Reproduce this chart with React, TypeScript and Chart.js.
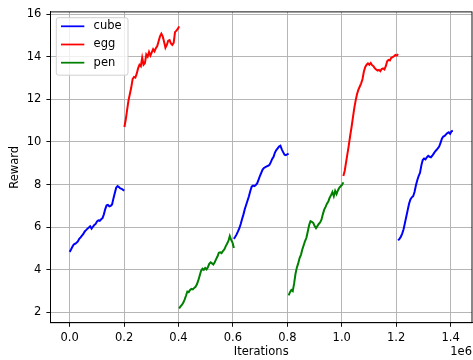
import React, { useEffect, useRef } from 'react';
import { Chart, registerables } from 'chart.js';

Chart.register(...registerables);

// ---- data ----
const SERIES_NAMES = ['cube', 'egg', 'pen'];
const SERIES_COLORS = ['#0000ff', '#ff0000', '#008000'];

// which series each training block belongs to, and where it starts (iterations)
const BLOCK_SERIES = [0, 1, 2, 0, 2, 1, 0];
const BLOCK_STARTS = [0, 201200, 402400, 603600, 804800, 1006000, 1207200];
const BLOCK_SPAN = 201200;

const CUBE_1 = [4.84, 4.95, 5.08, 5.19, 5.22, 5.27, 5.33, 5.45, 5.52, 5.6, 5.68, 5.8, 5.86, 5.93, 5.98, 6.04, 5.93, 6.02, 6.1, 6.15, 6.27, 6.32, 6.3, 6.37, 6.42, 6.6, 6.85, 7.02, 7.04, 6.98, 7.0, 7.06, 7.35, 7.6, 7.85, 7.93, 7.88, 7.82, 7.8, 7.75, 7.72];
const EGG_1 = [10.7, 11.05, 11.5, 11.95, 12.25, 12.55, 12.95, 13.05, 13.02, 13.2, 13.45, 13.62, 13.55, 13.95, 13.62, 13.7, 14.1, 14.0, 14.22, 14.05, 14.2, 14.35, 14.25, 14.4, 14.5, 14.72, 14.95, 15.08, 14.95, 14.7, 14.42, 14.55, 14.75, 14.78, 14.62, 14.55, 14.65, 15.15, 15.22, 15.3, 15.42];
const PEN_1 = [2.18, 2.28, 2.35, 2.45, 2.6, 2.78, 2.98, 2.95, 3.05, 3.1, 3.08, 3.15, 3.2, 3.32, 3.5, 3.72, 3.95, 4.05, 4.0, 4.08, 4.02, 4.12, 4.28, 4.35, 4.3, 4.25, 4.35, 4.5, 4.62, 4.8, 4.82, 4.78, 4.88, 4.95, 5.1, 5.22, 5.35, 5.58, 5.4, 5.28, 5.02];
const CUBE_2 = [5.45, 5.55, 5.66, 5.8, 5.95, 6.15, 6.38, 6.6, 6.85, 7.05, 7.25, 7.45, 7.7, 7.9, 7.95, 7.93, 7.98, 8.05, 8.22, 8.4, 8.55, 8.7, 8.78, 8.82, 8.85, 8.88, 8.92, 9.05, 9.2, 9.3, 9.5, 9.62, 9.7, 9.78, 9.82, 9.65, 9.52, 9.4, 9.38, 9.42, 9.45];
const PEN_2 = [2.8, 2.95, 3.05, 3.0, 3.35, 3.8, 4.1, 4.3, 4.55, 4.7, 4.95, 5.15, 5.35, 5.5, 5.8, 6.1, 6.28, 6.25, 6.2, 6.05, 5.95, 6.05, 6.15, 6.22, 6.35, 6.6, 6.82, 6.95, 7.1, 7.2, 7.38, 7.5, 7.65, 7.45, 7.7, 7.55, 7.72, 7.85, 7.92, 7.98, 8.1];
const EGG_2 = [8.4, 8.65, 9.05, 9.45, 9.85, 10.3, 10.7, 11.15, 11.6, 11.95, 12.25, 12.45, 12.6, 12.75, 12.95, 13.3, 13.52, 13.62, 13.68, 13.62, 13.7, 13.6, 13.55, 13.45, 13.4, 13.35, 13.38, 13.32, 13.42, 13.45, 13.4, 13.55, 13.78, 13.85, 13.82, 13.95, 13.98, 14.02, 14.08, 14.05, 14.12];
const CUBE_3 = [5.38, 5.45, 5.55, 5.7, 5.9, 6.2, 6.5, 6.8, 7.1, 7.3, 7.4, 7.45, 7.65, 7.95, 8.2, 8.4, 8.55, 8.9, 9.15, 9.22, 9.18, 9.28, 9.35, 9.3, 9.28, 9.35, 9.45, 9.55, 9.62, 9.7, 9.78, 9.95, 10.15, 10.25, 10.28, 10.35, 10.42, 10.45, 10.38, 10.5, 10.52];
const BLOCK_VALUES = [CUBE_1, EGG_1, PEN_1, CUBE_2, PEN_2, EGG_2, CUBE_3];

const X_TICKS = [0, 200000, 400000, 600000, 800000, 1000000, 1200000, 1400000];
const Y_TICKS = [2, 4, 6, 8, 10, 12, 14, 16];
const X_MIN = -70400;
const X_MAX = 1478800;
const Y_MIN = 1.517;
const Y_MAX = 16.1;

const X_TITLE = 'Iterations';
const Y_TITLE = 'Reward';
const X_OFFSET_TEXT = '1e6';

// ---- styling ----
const FONT_FAMILY = '"DejaVu Sans", sans-serif';
const FONT_SIZE = 11.5;
const W = 473;
const H = 360;

const overlayPlugin = {
  id: 'mplOverlay',
  afterDatasetsDraw(chart: any) {
    const ctx = chart.ctx as CanvasRenderingContext2D;
    const a = chart.chartArea;
    ctx.save();
    // spines
    ctx.strokeStyle = '#000';
    ctx.lineWidth = 0.93;
    ctx.strokeRect(a.left, a.top, a.right - a.left, a.bottom - a.top);

    // legend
    const bx = a.left + 5.8;
    const by = a.top + 5.8;
    const bw = 71.7;
    const bh = 57.5;
    ctx.beginPath();
    (ctx as any).roundRect(bx, by, bw, bh, 2.3);
    ctx.fillStyle = 'rgba(255,255,255,0.8)';
    ctx.fill();
    ctx.strokeStyle = '#cccccc';
    ctx.lineWidth = 0.93;
    ctx.stroke();
    ctx.font = `${FONT_SIZE}px ${FONT_FAMILY}`;
    ctx.textBaseline = 'middle';
    ctx.textAlign = 'left';
    SERIES_NAMES.forEach((name, i) => {
      const y = by + 8.6 + i * 18.2;
      ctx.beginPath();
      ctx.moveTo(bx + 4.7, y);
      ctx.lineTo(bx + 28, y);
      ctx.strokeStyle = SERIES_COLORS[i];
      ctx.lineWidth = 1.75;
      ctx.stroke();
      ctx.fillStyle = '#000';
      ctx.fillText(name, bx + 37.3, y);
    });

    // axis titles
    ctx.fillStyle = '#000';
    ctx.textAlign = 'center';
    ctx.textBaseline = 'middle';
    ctx.fillText(X_TITLE, (a.left + a.right) / 2, 352.5);
    ctx.textAlign = 'right';
    ctx.fillText(X_OFFSET_TEXT, a.right, 352);
    ctx.save();
    ctx.translate(15.5, (a.top + a.bottom) / 2);
    ctx.rotate(-Math.PI / 2);
    ctx.textAlign = 'center';
    ctx.fillText(Y_TITLE, 0, 0);
    ctx.restore();
    ctx.restore();
  },
};

export default function App() {
  const ref = useRef<HTMLCanvasElement | null>(null);

  useEffect(() => {
    document.body.style.margin = '0';
    const canvas = ref.current;
    if (!canvas) return;

    const datasets = BLOCK_VALUES.map((vals, k) => {
      const s = BLOCK_SERIES[k];
      const step = BLOCK_SPAN / (vals.length - 1);
      return {
        label: SERIES_NAMES[s],
        data: vals.map((v, i) => ({ x: BLOCK_STARTS[k] + i * step, y: v })),
        borderColor: SERIES_COLORS[s],
        backgroundColor: SERIES_COLORS[s],
        borderWidth: 2,
        pointRadius: 0,
        tension: 0,
        fill: false,
        order: -k,
      };
    });

    const tickFont = { family: FONT_FAMILY, size: FONT_SIZE };

    const chart = new Chart(canvas, {
      type: 'line',
      data: { datasets },
      plugins: [overlayPlugin],
      options: {
        animation: false,
        responsive: false,
        maintainAspectRatio: false,
        devicePixelRatio: 1,
        layout: { padding: { top: 8.7, right: 1, left: 0, bottom: 0 } },
        plugins: { legend: { display: false }, tooltip: { enabled: false } },
        scales: {
          x: {
            type: 'linear',
            min: X_MIN,
            max: X_MAX,
            afterBuildTicks: (axis: any) => {
              axis.ticks = X_TICKS.map((v) => ({ value: v }));
            },
            afterFit: (axis: any) => {
              axis.height = 37.3;
            },
            ticks: {
              font: tickFont,
              color: '#000',
              padding: 4,
              maxRotation: 0,
              autoSkip: false,
              callback: (v: any) => (Number(v) / 1e6).toFixed(1),
            },
            grid: {
              color: '#b0b0b0',
              lineWidth: 0.93,
              drawTicks: true,
              tickLength: 4.1,
              tickColor: '#000',
              tickWidth: 0.93,
            },
            border: { display: true, color: '#000', width: 0.93 },
          },
          y: {
            type: 'linear',
            min: Y_MIN,
            max: Y_MAX,
            afterBuildTicks: (axis: any) => {
              axis.ticks = Y_TICKS.map((v) => ({ value: v }));
            },
            afterFit: (axis: any) => {
              axis.width = 50.5;
            },
            ticks: {
              font: tickFont,
              color: '#000',
              padding: 5,
              autoSkip: false,
              callback: (v: any) => String(v),
            },
            grid: {
              color: '#b0b0b0',
              lineWidth: 0.93,
              drawTicks: true,
              tickLength: 4.1,
              tickColor: '#000',
              tickWidth: 0.93,
            },
            border: { display: true, color: '#000', width: 0.93 },
          },
        },
      },
    } as any);

    return () => chart.destroy();
  }, []);

  return (
    <div style={{ width: W, height: H, background: '#fff' }}>
      <canvas ref={ref} width={W} height={H} style={{ display: 'block', width: W, height: H }} />
    </div>
  );
}
